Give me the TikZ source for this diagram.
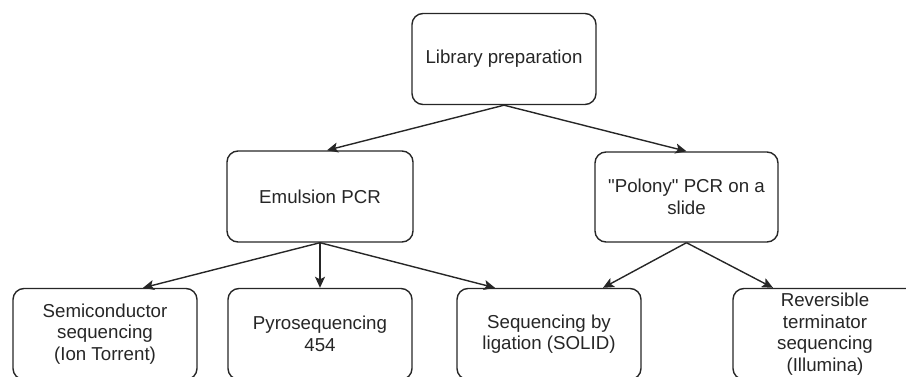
\documentclass[tikz,border=0pt]{standalone}
\usepackage{fontspec}
\setmainfont{Liberation Sans}[Ligatures=TeXOff]
\usetikzlibrary{arrows.meta}
\definecolor{txt}{HTML}{262626}
\tikzset{
  box/.style={draw=black!85, line width=1.4pt, rounded corners=11pt, minimum width=184pt, minimum height=91pt,
    inner sep=0pt, align=center, text=txt, font=\fontsize{18.7}{21.5}\selectfont},
  conn/.style={draw=black!85, line width=1.4pt, -{Stealth[length=11pt,width=10pt,inset=2.5pt]}}
}
\begin{document}
\begin{tikzpicture}[x=1pt,y=-1pt]
\useasboundingbox (0,0) rectangle (906,377);
\begin{scope}
\clip (0,0) rectangle (906,377);
\node[box] (lib) at (504,59) {Library preparation};
\node[box, minimum width=186pt] (emu) at (320,196.5) {Emulsion PCR};
\node[box, minimum width=183pt, minimum height=90pt] (pol) at (686.5,197) {"Polony" PCR on a\\slide};
\node[box] (semi) at (105,334) {Semiconductor\\sequencing\\(Ion Torrent)};
\node[box] (pyro) at (320,334) {Pyrosequencing\\454};
\node[box] (lig) at (549,334) {Sequencing by\\ligation (SOLID)};
\node[box] (rev) at (825,334) {Reversible\\terminator\\sequencing\\(Illumina)};
\draw[conn] (lib.south) -- ([xshift=7pt]emu.north);
\draw[conn] (lib.south) -- (pol.north);
\draw[conn] (emu.south) -- ([xshift=38pt]semi.north);
\draw[conn] (emu.south) -- (pyro.north);
\draw[conn] (emu.south) -- ([xshift=-54pt]lig.north);
\draw[conn] (pol.south) -- ([xshift=54pt]lig.north);
\draw[conn] (pol.south) -- ([xshift=-52pt]rev.north);
\end{scope}
\end{tikzpicture}
\end{document}
